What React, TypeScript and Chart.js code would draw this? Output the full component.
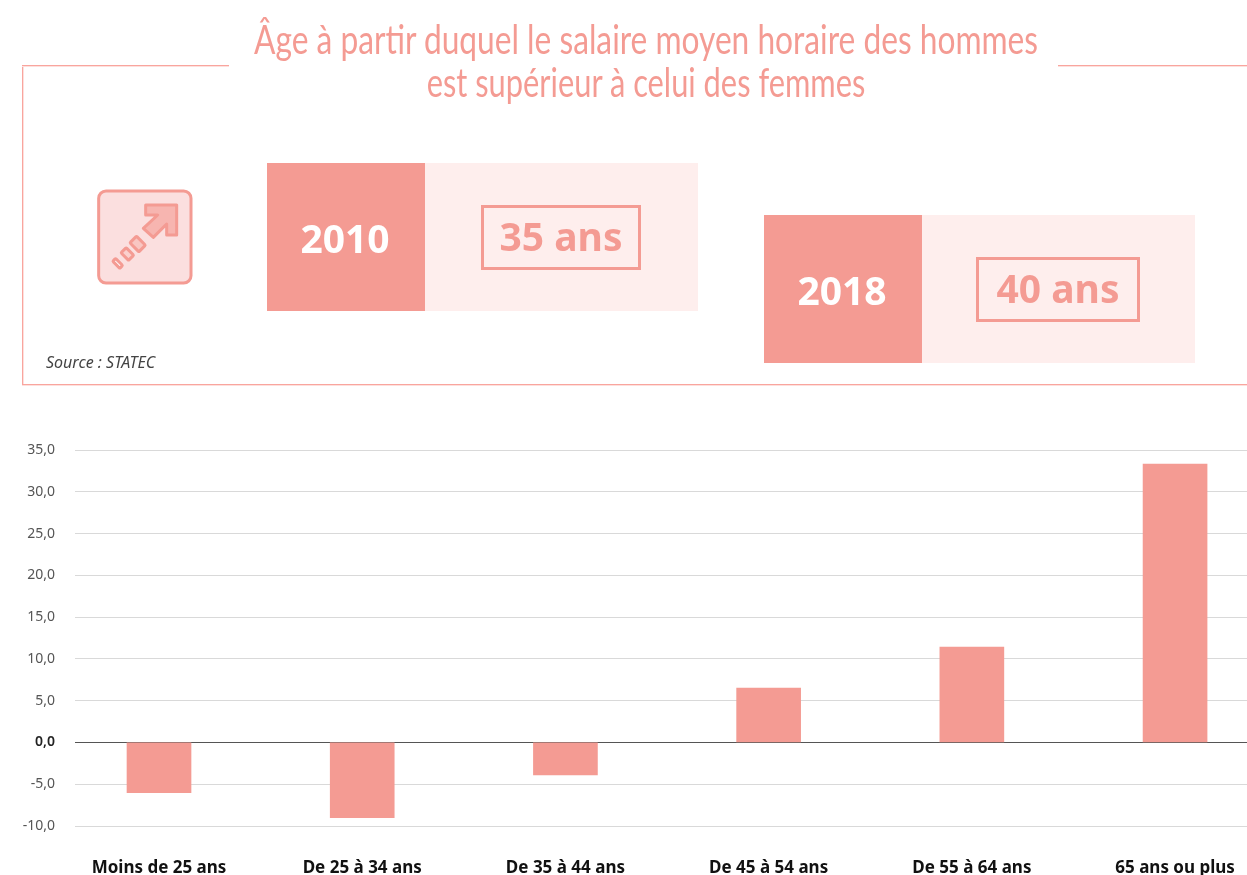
import React, { useEffect, useRef } from "react";
import { Chart, registerables } from "chart.js";

Chart.register(...registerables);

const categories = ["Moins de 25 ans", "De 25 à 34 ans", "De 35 à 44 ans", "De 45 à 54 ans", "De 55 à 64 ans", "65 ans ou plus"];
const values = [-6.0, -9.0, -3.9, 6.5, 11.4, 33.3];
const titleLines = ["Âge à partir duquel le salaire moyen horaire des hommes", "est supérieur à celui des femmes"];
const sourceText = "Source : STATEC";
const years = ["2010", "2018"];
const ages = ["35 ans", "40 ans"];

const PINK = "#f49b93";
const LIGHT = "#feeeed";
const FRAME = "#f9a59e";
const FRAME_SOFT = "#fde0dd";
const SANS = '"Noto Sans", sans-serif';

const abs = (left: number, top: number, width: number, height: number): React.CSSProperties => ({
  position: "absolute", left, top, width, height, boxSizing: "border-box",
});
const centered: React.CSSProperties = { display: "flex", alignItems: "center", justifyContent: "center", fontFamily: SANS, fontWeight: 700, whiteSpace: "nowrap" };

function Block({ x, y, year, age, bx, bw }: { x: number; y: number; year: string; age: string; bx: number; bw: number }) {
  return (
    <>
      <div style={{ ...abs(x, y, 158, 148), background: PINK }} />
      <div style={{ ...abs(x + 158, y, 273, 148), background: LIGHT }} />
      <div style={{ ...abs(x - 1, y, 158, 148), ...centered, color: "#fff", fontSize: 39 }}>{year}</div>
      <div style={{ ...abs(bx, y + 42, bw, 65), border: `3px solid ${PINK}`, ...centered, color: PINK, fontSize: 39, paddingBottom: 4 }}>{age}</div>
    </>
  );
}

export default function App() {
  const ref = useRef<HTMLCanvasElement>(null);
  useEffect(() => {
    const chart = new Chart(ref.current!, {
      type: "bar",
      data: {
        datasets: [{
          data: values.map((y, x) => ({ x, y })),
          backgroundColor: PINK,
          barThickness: 64,
        }],
      },
      options: {
        responsive: false,
        animation: false,
        layout: { padding: { top: 450, left: 0, right: 0, bottom: 0 } },
        plugins: { legend: { display: false }, tooltip: { enabled: false }, title: { display: false } },
        scales: {
          x: {
            type: "linear",
            offset: false,
            min: -0.4134,
            max: 5.354,
            grid: { display: false },
            border: { display: false },
            afterBuildTicks: (s: any) => { s.ticks = categories.map((_, i) => ({ value: i })); },
            afterFit: (s: any) => { s.height = 49; s.paddingLeft = 0; s.paddingRight = 0; },
            ticks: {
              autoSkip: false,
              maxRotation: 0,
              minRotation: 0,
              padding: 24,
              color: "#111",
              font: { family: '"Noto Sans"', size: 17, weight: "bold" },
              callback: (v: any) => categories[v],
            },
          },
          y: {
            min: -10,
            max: 35,
            border: { display: false },
            afterFit: (s: any) => { s.width = 75; },
            grid: {
              drawTicks: false,
              lineWidth: 1,
              color: (c: any) => (c.tick && c.tick.value === 0 ? "#555" : "#d9d9d9"),
            },
            ticks: {
              stepSize: 5,
              padding: 20,
              color: (c: any) => (c.tick && c.tick.value === 0 ? "#222" : "#555"),
              font: (c: any) => ({ family: '"Noto Sans"', size: 14, weight: c.tick && c.tick.value === 0 ? "600" : "400" }),
              callback: (v: any) => Number(v).toFixed(1).replace(".", ","),
            },
          },
        },
      },
    } as any);
    return () => chart.destroy();
  }, []);

  return (
    <div style={{ ...abs(0, 0, 1247, 875), overflow: "hidden", background: "#fff" }}>
      <canvas ref={ref} width={1247} height={875} style={{ position: "absolute", left: 0, top: 0 }} />

      <div style={{ ...abs(22, 65, 1, 320), background: FRAME, boxShadow: `1px 0 0 ${FRAME_SOFT}` }} />
      <div style={{ ...abs(22, 65, 207, 1), background: FRAME, boxShadow: `0 1px 0 ${FRAME_SOFT}` }} />
      <div style={{ ...abs(1058, 65, 189, 1), background: FRAME, boxShadow: `0 1px 0 ${FRAME_SOFT}` }} />
      <div style={{ ...abs(22, 384, 1225, 1), background: FRAME, boxShadow: `0 1px 0 ${FRAME_SOFT}` }} />

      {titleLines.map((t, i) => (
        <div key={i} style={{ position: "absolute", left: 0, width: 1292, top: 14 + i * 43, height: 50, lineHeight: "50px", textAlign: "center", color: PINK, fontFamily: "Lato, sans-serif", fontSize: 41, whiteSpace: "nowrap", transform: `scaleX(${i === 0 ? 0.773 : 0.752})`, transformOrigin: "646px 0" }}>{t}</div>
      ))}

      <svg style={abs(85, 180, 120, 115)} viewBox="0 0 360 345">
        <rect x="41" y="33" width="277" height="276" rx="22" fill="#fbdfdf" stroke={PINK} strokeWidth="9" />
        <polygon points="182,75 275,75 275,165 245,165 245,132 205,172 175,145 218,105 182,105" fill="#f7b5b0" stroke={PINK} strokeWidth="9" strokeLinejoin="round" />
        <rect x="-19" y="-14" width="38" height="28" rx="3" transform="translate(158,192) rotate(45)" fill="#f9c6c2" stroke={PINK} strokeWidth="9" />
        <rect x="-16" y="-11" width="32" height="22" rx="3" transform="translate(127,222) rotate(45)" fill="#fbd0cd" stroke={PINK} strokeWidth="9" />
        <rect x="-15" y="-6" width="30" height="12" rx="3" transform="translate(98,250) rotate(45)" fill="#fff" stroke={PINK} strokeWidth="9" />
      </svg>

      <Block x={267} y={163} year={years[0]} age={ages[0]} bx={481} bw={160} />
      <Block x={764} y={215} year={years[1]} age={ages[1]} bx={976} bw={164} />

      <div style={{ position: "absolute", left: 46, top: 351, fontFamily: SANS, fontStyle: "italic", fontSize: 16, lineHeight: "22px", color: "#444", whiteSpace: "nowrap" }}>{sourceText}</div>
    </div>
  );
}
